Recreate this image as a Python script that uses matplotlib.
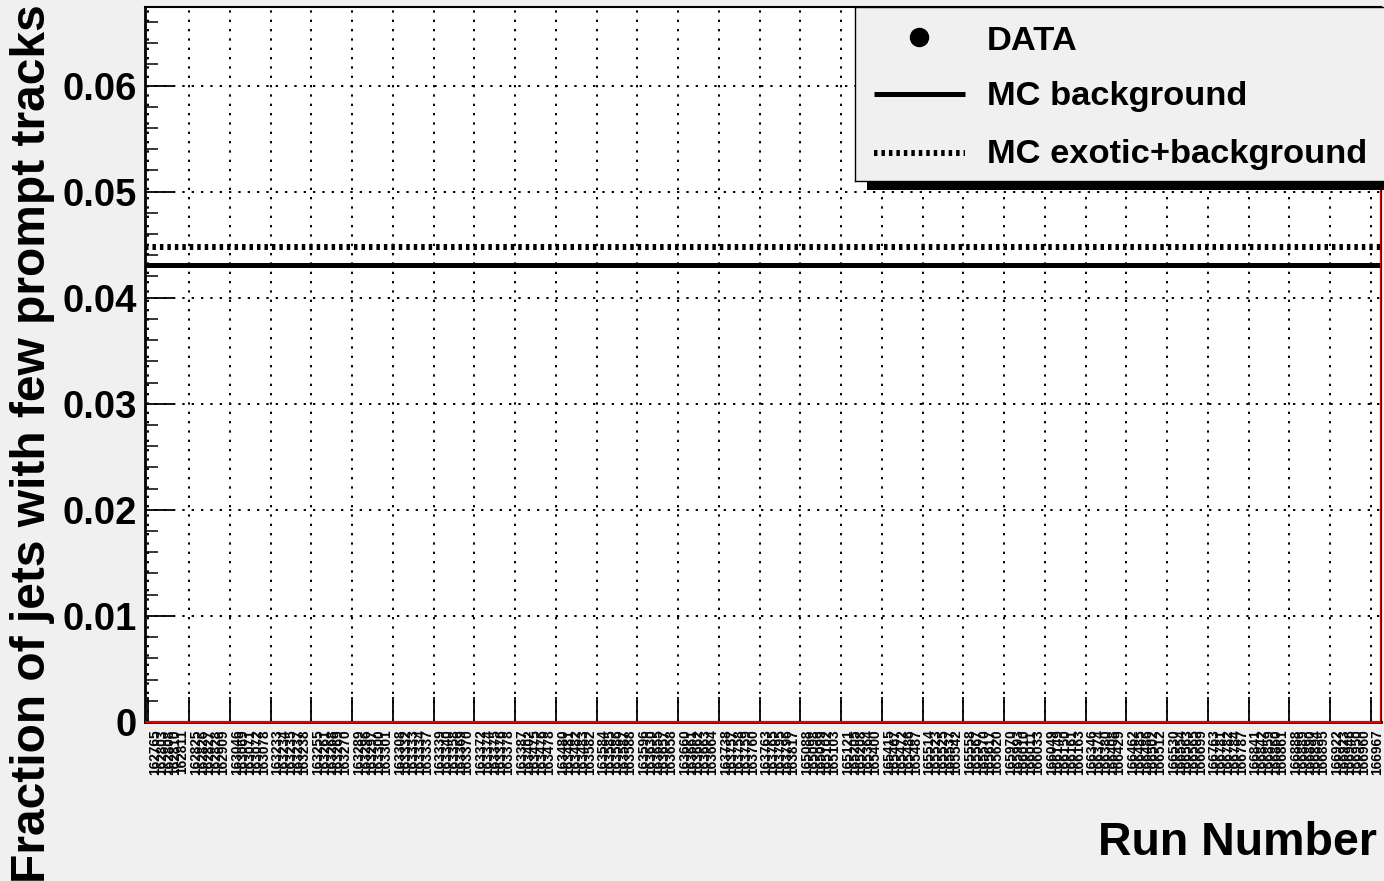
import matplotlib
matplotlib.use("Agg")
import matplotlib.pyplot as plt
from matplotlib.patches import Rectangle
import numpy as np

plt.rcParams['font.family'] = ['Liberation Sans', 'DejaVu Sans']

# Run numbers (one bin per run)
run_numbers = [
    "162762", "162765", "162803", "162808", "162810", "162811", "162822", "162825",
    "162826", "162827", "162828", "162909", "163045", "163046", "163069", "163071",
    "163072", "163078", "163232", "163233", "163234", "163235", "163237", "163238",
    "163252", "163255", "163261", "163268", "163269", "163270", "163286", "163289",
    "163296", "163297", "163300", "163301", "163302", "163308", "163332", "163333",
    "163334", "163337", "163338", "163339", "163340", "163358", "163369", "163370",
    "163371", "163372", "163374", "163375", "163376", "163378", "163385", "163387",
    "163402", "163475", "163476", "163478", "163479", "163480", "163481", "163482",
    "163483", "163582", "163583", "163584", "163585", "163586", "163587", "163588",
    "163589", "163596", "163630", "163655", "163657", "163658", "163659", "163660",
    "163661", "163662", "163663", "163664", "163668", "163738", "163757", "163758",
    "163759", "163760", "163761", "163763", "163765", "163795", "163796", "163817",
    "163869", "165088", "165098", "165099", "165102", "165103", "165120", "165121",
    "165205", "165208", "165364", "165400", "165402", "165415", "165467", "165472",
    "165486", "165487", "165506", "165514", "165523", "165525", "165537", "165542",
    "165548", "165558", "165567", "165570", "165617", "165620", "165633", "165970",
    "165993", "166010", "166011", "166033", "166034", "166049", "166149", "166150",
    "166161", "166163", "166164", "166346", "166374", "166380", "166408", "166429",
    "166438", "166462", "166485", "166486", "166502", "166512", "166514", "166530",
    "166554", "166563", "166565", "166699", "166701", "166763", "166781", "166782",
    "166784", "166787", "166839", "166841", "166842", "166859", "166860", "166861",
    "166864", "166888", "166889", "166890", "166894", "166895", "166911", "166922",
    "166923", "166946", "166950", "166960", "166966", "166967",
]
n_bins = len(run_numbers)

# Fraction per run in data (empty histogram) and the MC expectations
data_fraction = [0.0] * n_bins
mc_background = 0.0431
mc_exotic_background = 0.0448

y_ticks = [0.0, 0.01, 0.02, 0.03, 0.04, 0.05, 0.06]
y_tick_labels = ["0", "0.01", "0.02", "0.03", "0.04", "0.05", "0.06"]
y_max = 0.0674

W, H = 1384, 881
bg = '#f0f0f0'
fig = plt.figure(figsize=(W / 100, H / 100), dpi=100, facecolor=bg)
ax = fig.add_axes([145 / W, (H - 722) / H, (1381 - 145) / W, (722 - 7) / H])
ax.set_facecolor('white')

edges = np.arange(n_bins + 1)
centers = edges[:-1] + 0.5
ax.set_xlim(0, n_bins)
ax.set_ylim(0, y_max)

# grid
dot = (0, (1.2, 3.6))
ax.set_xticks(centers[::6])
ax.set_xticklabels([])
ax.set_yticks(y_ticks, y_tick_labels)
ax.grid(True, which='major', color='black', linestyle=dot, linewidth=1.4)
ax.set_axisbelow(True)

# run labels on every bin
ax.set_xticks(centers, run_numbers, minor=True)
ax.tick_params(axis='x', which='minor', length=0, pad=5.5, labelsize=9.8,
               labelrotation=90)
for t in ax.get_xticklabels(minor=True):
    t.set_verticalalignment('top')
    t.set_fontweight('bold')
ax.tick_params(axis='x', which='major', direction='in', length=18, width=1.3,
               bottom=True, top=False)

ax.yaxis.set_minor_locator(matplotlib.ticker.MultipleLocator(0.002))
ax.tick_params(axis='y', which='major', direction='in', length=21.5, width=1.3,
               labelsize=27.5, pad=6, right=False)
ax.tick_params(axis='y', which='minor', direction='in', length=9.5, width=1.1,
               right=False)
for t in ax.get_yticklabels():
    t.set_fontweight('bold')

for side, lw in [('left', 2.0), ('bottom', 2.0), ('top', 1.5), ('right', 1.5)]:
    ax.spines[side].set_linewidth(lw)
    ax.spines[side].set_color('black')

# MC expectations
ax.hlines(mc_background, 0, n_bins, colors='black', linewidth=3.6, zorder=3)
ax.hlines(mc_exotic_background, 0, n_bins, colors='black', linewidth=4.3,
          linestyles=[(0, (0.58, 0.67))], zorder=3)

# data histogram
ax.stairs(data_fraction, edges, color='#e00000', linewidth=1.6, zorder=4,
          clip_on=False)
ax.axvline(n_bins, color='#e00000', linewidth=1.6, zorder=4)

# axis titles
fig.text(33 / W, 1 - 4 / H, "Fraction of jets with few prompt tracks",
         rotation=90, ha='center', va='top', fontsize=34.5, fontweight='bold')
fig.text(1377 / W, 1 - 843 / H, "Run Number", ha='right', va='center',
         fontsize=33.5, fontweight='bold')

# legend box with shadow
fig.add_artist(Rectangle((867 / W, 1 - 190 / H), (1400 - 867) / W, 12 / H,
                         transform=fig.transFigure, facecolor='black',
                         edgecolor='none', zorder=1.5))
lax = fig.add_axes([855 / W, 1 - 181 / H, (1400 - 855) / W, (181 - 7) / H])
lax.set_zorder(2)
lax.set_facecolor(bg)
lax.set_xlim(855, 1400)
lax.set_ylim(181, 7)
lax.set_xticks([])
lax.set_yticks([])
for s in lax.spines.values():
    s.set_linewidth(1.0)
    s.set_color('black')
lax.plot([919], [37], 'o', color='black', markersize=13)
lax.plot([874, 965], [94, 94], color='black', linewidth=3.6,
         solid_capstyle='butt')
lax.plot([874, 965], [153, 153], color='black', linewidth=4.3,
         linestyle=(0, (0.58, 0.67)), dash_capstyle='butt')
for yb, label in [(50, "DATA"), (105, "MC background"),
                  (163, "MC exotic+background")]:
    lax.text(987, yb, label, ha='left', va='baseline', fontsize=24.8,
             fontweight='bold')

fig.savefig("out.png", dpi=100, facecolor=bg)
